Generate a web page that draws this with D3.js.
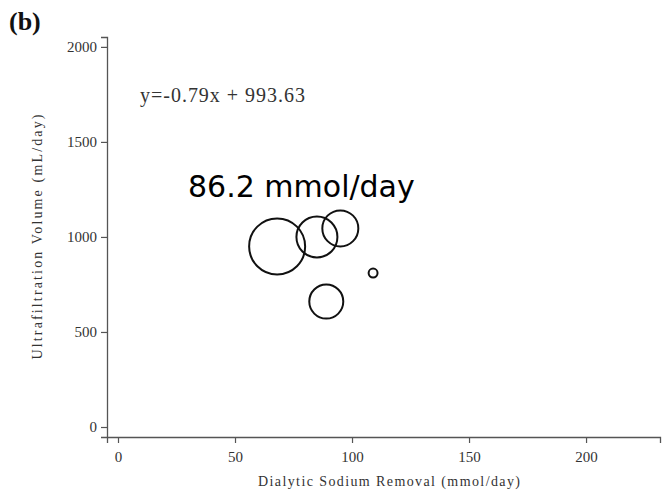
<!DOCTYPE html>
<html lang="en">
<head>
  <meta charset="UTF-8">
  <title>Ultrafiltration vs Sodium Removal</title>
  <script src="https://d3js.org/d3.v7.min.js"></script>
  <style>
    body {
      margin: 0;
      background: #fff;
    }
    svg {
      display: block;
    }
  </style>
</head>
<body>
  <script>
    const width = 662;
    const height = 492;

    // data
    const sodium = [68, 85, 95, 109, 89];             // mmol/day
    const ufVolume = [950, 1000, 1045, 810, 660];     // mL/day
    const weight = [784, 420, 324, 20, 289];          // bubble size
    const xTicks = [0, 50, 100, 150, 200];
    const yTicks = [0, 500, 1000, 1500, 2000];

    const points = sodium.map((s, i) => ({ x: s, y: ufVolume[i], w: weight[i] }));

    const svg = d3.select("body")
      .append("svg")
      .attr("width", width)
      .attr("height", height);

    const x = d3.scaleLinear().domain([-4.7, 231.6]).range([107, 660]);
    const y = d3.scaleLinear().domain([-52.6, 2052]).range([437, 37]);
    const r = d3.scaleSqrt().domain([0, 784]).range([0, 28]);

    const axisColor = "#555";
    const serif = "'Liberation Serif', 'Times New Roman', serif";

    // x axis
    const xAxis = svg.append("g")
      .attr("transform", `translate(0,${y.range()[0]})`)
      .call(d3.axisBottom(x).tickValues(xTicks).tickFormat(d3.format("d")).tickSize(6).tickPadding(8));

    // y axis
    const yAxis = svg.append("g")
      .attr("transform", `translate(${x.range()[0]},0)`)
      .call(d3.axisLeft(y).tickValues(yTicks).tickFormat(d3.format("d")).tickSize(6).tickPadding(4));

    [xAxis, yAxis].forEach(g => {
      g.select(".domain").attr("stroke", axisColor).attr("stroke-width", 1.3);
      g.selectAll(".tick line").attr("stroke", axisColor).attr("stroke-width", 1.2);
      g.selectAll(".tick text")
        .attr("fill", "#333")
        .style("font-family", serif)
        .style("font-size", "15px");
    });

    // bubbles
    svg.append("g")
      .selectAll("circle")
      .data(points)
      .join("circle")
      .attr("cx", d => x(d.x))
      .attr("cy", d => y(d.y))
      .attr("r", d => r(d.w))
      .attr("fill", "none")
      .attr("stroke", "#111")
      .attr("stroke-width", 2);

    // axis titles
    svg.append("text")
      .attr("x", 389)
      .attr("y", 486)
      .attr("text-anchor", "middle")
      .attr("fill", "#333")
      .style("font-family", serif)
      .style("font-size", "14px")
      .attr("textLength", 262)
      .text("Dialytic Sodium Removal (mmol/day)");

    svg.append("text")
      .attr("transform", "translate(42,237) rotate(-90)")
      .attr("text-anchor", "middle")
      .attr("fill", "#333")
      .style("font-family", serif)
      .style("font-size", "14px")
      .attr("textLength", 245)
      .text("Ultrafiltration Volume (mL/day)");

    // panel label
    svg.append("text")
      .attr("x", 9)
      .attr("y", 30)
      .attr("fill", "#111")
      .style("font-family", serif)
      .style("font-size", "26px")
      .style("font-weight", "bold")
      .text("(b)");

    // regression equation
    svg.append("text")
      .attr("x", 140)
      .attr("y", 102)
      .attr("fill", "#333")
      .style("font-family", serif)
      .style("font-size", "20px")
      .attr("textLength", 165)
      .text("y=-0.79x + 993.63");

    // annotation
    svg.append("text")
      .attr("x", 188)
      .attr("y", 197)
      .attr("fill", "#000")
      .style("font-family", "'DejaVu Sans', sans-serif")
      .style("font-size", "30px")
      .text("86.2 mmol/day");
  </script>
</body>
</html>
